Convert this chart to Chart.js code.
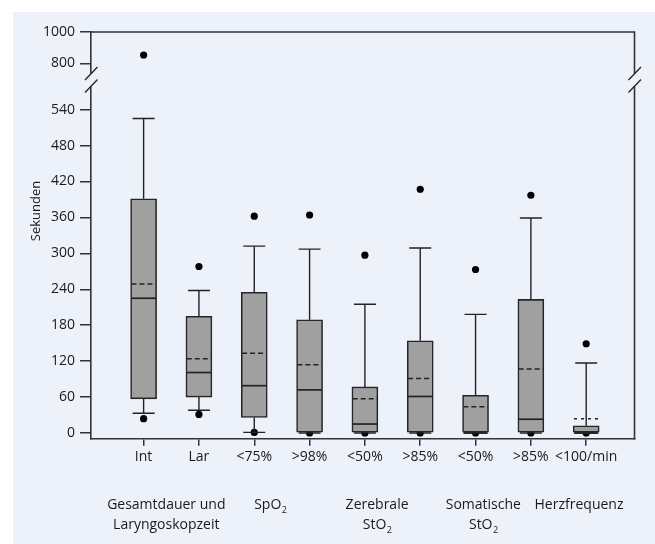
<!DOCTYPE html>
<html>
<head>
<meta charset="utf-8">
<script src="https://cdn.jsdelivr.net/npm/chart.js@4/dist/chart.umd.min.js"></script>
<style>
  html, body { margin: 0; padding: 0; background: #ffffff; }
  #wrap { width: 655px; height: 544px; }
</style>
</head>
<body>
<div id="wrap"><canvas id="c" width="655" height="544"></canvas></div>
<script>
// Durations in seconds, one box per measured interval
const categories   = ['Int', 'Lar', '<75%', '>98%', '<50%', '>85%', '<50%', '>85%', '<100/min'];
const q1           = [57, 60, 26, 0, 0, 0, 0, 0, 0];
const q3           = [391, 195, 235, 189, 77, 154, 63, 223, 12];
const medians      = [225, 101, 79, 72, 15, 61, 0, 23, 0];
const means        = [249, 124, 133, 114, 57, 91, 44, 107, 24];
const whiskerLow   = [33, 38, 1, 0, 0, 0, 0, 0, 0];
const whiskerHigh  = [525, 238, 312, 307, 215, 309, 198, 359, 117];
const outliersLow  = [24, 31, 1, 0, 0, 0, 0, 0, 0];
const outliersHigh = [854, 278, 362, 364, 297, 407, 273, 397, 149];
const yTicksLower  = [0, 60, 120, 180, 240, 300, 360, 420, 480, 540];
const yTicksUpper  = [800, 1000];
const groupLabels  = [
  ['Gesamtdauer und', 'Laryngoskopzeit'],
  ['SpO|2'],
  ['Zerebrale', 'StO|2'],
  ['Somatische', 'StO|2'],
  ['Herzfrequenz']
];

// broken y axis: lower and upper segment
const LOW_MIN = -9.5, LOW_MAX = 589.4, TOP_MIN = 695.2, TOP_MAX = 1000;

const BG = '#edf1f9';
const AX = '#333333';
const TXT = '#1a1a1a';
const FONT = 'Open Sans';

const lowerPts = [], upperPts = [];
[outliersLow, outliersHigh].forEach(arr => arr.forEach((v, i) => {
  (v > LOW_MAX ? upperPts : lowerPts).push({ x: i + 1, y: v });
}));

const backgroundPlugin = {
  id: 'panelBg',
  beforeDraw(chart) {
    const ctx = chart.ctx;
    ctx.save();
    ctx.fillStyle = '#ffffff';
    ctx.fillRect(0, 0, chart.width, chart.height);
    ctx.fillStyle = BG;
    ctx.fillRect(13, 12, chart.width - 13, chart.height - 12);
    ctx.restore();
  }
};

const boxPlugin = {
  id: 'boxDetails',
  afterDatasetsDraw(chart) {
    const ctx = chart.ctx, xs = chart.scales.x, ys = chart.scales.y;
    const boxHalf = 12.2, capHalf = 11;
    ctx.save();
    categories.forEach((c, i) => {
      const xp = xs.getPixelForValue(i + 1);
      ctx.strokeStyle = '#222222';
      ctx.setLineDash([]);
      ctx.lineWidth = 1.4;
      // whiskers
      ctx.beginPath();
      ctx.moveTo(xp, ys.getPixelForValue(q3[i]));
      ctx.lineTo(xp, ys.getPixelForValue(whiskerHigh[i]));
      ctx.moveTo(xp, ys.getPixelForValue(q1[i]));
      ctx.lineTo(xp, ys.getPixelForValue(whiskerLow[i]));
      ctx.stroke();
      // caps
      ctx.beginPath();
      const yh = ys.getPixelForValue(whiskerHigh[i]);
      const yl = ys.getPixelForValue(whiskerLow[i]);
      ctx.moveTo(xp - capHalf, yh); ctx.lineTo(xp + capHalf, yh);
      ctx.moveTo(xp - capHalf, yl); ctx.lineTo(xp + capHalf, yl);
      ctx.stroke();
      // median
      ctx.lineWidth = 1.7;
      const ym = ys.getPixelForValue(medians[i]);
      ctx.beginPath();
      ctx.moveTo(xp - boxHalf, ym); ctx.lineTo(xp + boxHalf, ym);
      ctx.stroke();
      // mean (dashed)
      ctx.lineWidth = 1.5;
      ctx.setLineDash(i === categories.length - 1 ? [3, 4] : [5, 3]);
      const ya = ys.getPixelForValue(means[i]);
      ctx.beginPath();
      ctx.moveTo(xp - boxHalf, ya); ctx.lineTo(xp + boxHalf, ya);
      ctx.stroke();
    });
    ctx.restore();
  }
};

const framePlugin = {
  id: 'frameAndBreak',
  afterDraw(chart) {
    const ctx = chart.ctx, a = chart.chartArea;
    const by = chart.scales.y.top;
    ctx.save();
    ctx.strokeStyle = AX;
    ctx.lineWidth = 1.6;
    ctx.beginPath();
    ctx.moveTo(a.left - 0.8, a.top); ctx.lineTo(a.right, a.top);
    ctx.lineTo(a.right, a.bottom + 0.8);
    ctx.stroke();
    // axis break marks on both sides
    [a.left, a.right].forEach(x => {
      ctx.fillStyle = BG;
      ctx.fillRect(x - 2.5, by - 6.5, 5, 13);
      ctx.strokeStyle = '#222222';
      ctx.lineWidth = 1.3;
      ctx.beginPath();
      ctx.moveTo(x - 6, by); ctx.lineTo(x + 6.5, by - 13);
      ctx.moveTo(x - 6, by + 12.5); ctx.lineTo(x + 6.5, by - 0.5);
      ctx.stroke();
    });
    // y axis title
    ctx.fillStyle = TXT;
    ctx.font = '13px "' + FONT + '"';
    ctx.textAlign = 'center';
    ctx.textBaseline = 'middle';
    ctx.translate(36, 211);
    ctx.rotate(-Math.PI / 2);
    ctx.fillText('Sekunden', 0, 0);
    ctx.restore();

    // group labels below the categories
    const anchors = chart.options.plugins.frameAndBreak.anchors;
    const xs = chart.scales.x;
    ctx.save();
    ctx.fillStyle = TXT;
    ctx.textBaseline = 'middle';
    groupLabels.forEach((lines, g) => {
      const cx = xs.getPixelForValue(anchors[g]);
      lines.forEach((line, k) => {
        const y = 505 + k * 20;
        const parts = line.split('|');
        ctx.font = '14px "' + FONT + '"';
        const w0 = ctx.measureText(parts[0]).width;
        let w1 = 0;
        if (parts[1]) { ctx.font = '9px "' + FONT + '"'; w1 = ctx.measureText(parts[1]).width; }
        const x0 = cx - (w0 + w1) / 2;
        ctx.textAlign = 'left';
        ctx.font = '14px "' + FONT + '"';
        ctx.fillText(parts[0], x0, y);
        if (parts[1]) {
          ctx.font = '9px "' + FONT + '"';
          ctx.fillText(parts[1], x0 + w0 + 0.5, y + 5);
        }
      });
    });
    ctx.restore();
  }
};

const tickFont = { family: FONT, size: 14 };

new Chart(document.getElementById('c'), {
  type: 'bar',
  data: {
    datasets: [
      {
        type: 'bar',
        data: categories.map((c, i) => ({ x: i + 1, y: [q1[i], q3[i]] })),
        backgroundColor: '#a0a0a0',
        borderColor: '#262626',
        borderWidth: 1.6,
        borderSkipped: false,
        barThickness: 26,
        xAxisID: 'x', yAxisID: 'y',
        order: 0
      },
      {
        type: 'scatter',
        data: lowerPts,
        backgroundColor: '#000000',
        borderWidth: 0,
        pointRadius: 3.6,
        xAxisID: 'x', yAxisID: 'y',
        order: 1
      },
      {
        type: 'scatter',
        data: upperPts,
        backgroundColor: '#000000',
        borderWidth: 0,
        pointRadius: 3.6,
        xAxisID: 'x', yAxisID: 'yTop',
        order: 1
      }
    ]
  },
  options: {
    responsive: false,
    animation: false,
    devicePixelRatio: 1,
    layout: { padding: { left: 13, top: 32, right: 20.5, bottom: 75.3 } },
    plugins: {
      legend: { display: false },
      tooltip: { enabled: false },
      frameAndBreak: { anchors: [1.41, 3.29, 5.22, 7.14, 8.87] }
    },
    scales: {
      x: {
        type: 'linear',
        offset: false,
        min: 0.049, max: 9.873,
        afterBuildTicks: s => { s.ticks = categories.map((c, i) => ({ value: i + 1 })); },
        afterFit: s => { s.height = 30; },
        ticks: {
          callback: v => categories[Math.round(v) - 1],
          autoSkip: false, maxRotation: 0, padding: 3,
          font: tickFont, color: TXT
        },
        grid: { offset: false, drawOnChartArea: false, drawTicks: true, tickLength: 7, tickColor: AX, lineWidth: 1.5 },
        border: { display: true, color: AX, width: 1.6 }
      },
      y: {
        type: 'linear', position: 'left', stack: 'v', stackWeight: 358.7,
        min: LOW_MIN, max: LOW_MAX,
        afterBuildTicks: s => { s.ticks = yTicksLower.map(v => ({ value: v })); },
        afterFit: s => { s.width = 78; },
        ticks: { padding: 5, font: tickFont, color: TXT, callback: v => String(v) },
        grid: { drawOnChartArea: false, drawTicks: true, tickLength: 11, tickColor: AX, lineWidth: 1.5 },
        border: { display: true, color: AX, width: 1.6 }
      },
      yTop: {
        type: 'linear', position: 'left', stack: 'v', stackWeight: 48,
        min: TOP_MIN, max: TOP_MAX,
        afterBuildTicks: s => { s.ticks = yTicksUpper.map(v => ({ value: v })); },
        afterFit: s => { s.width = 78; },
        ticks: { padding: 5, font: tickFont, color: TXT, callback: v => String(v) },
        grid: { drawOnChartArea: false, drawTicks: true, tickLength: 11, tickColor: AX, lineWidth: 1.5 },
        border: { display: true, color: AX, width: 1.6 }
      }
    }
  },
  plugins: [backgroundPlugin, boxPlugin, framePlugin]
});
</script>
</body>
</html>
